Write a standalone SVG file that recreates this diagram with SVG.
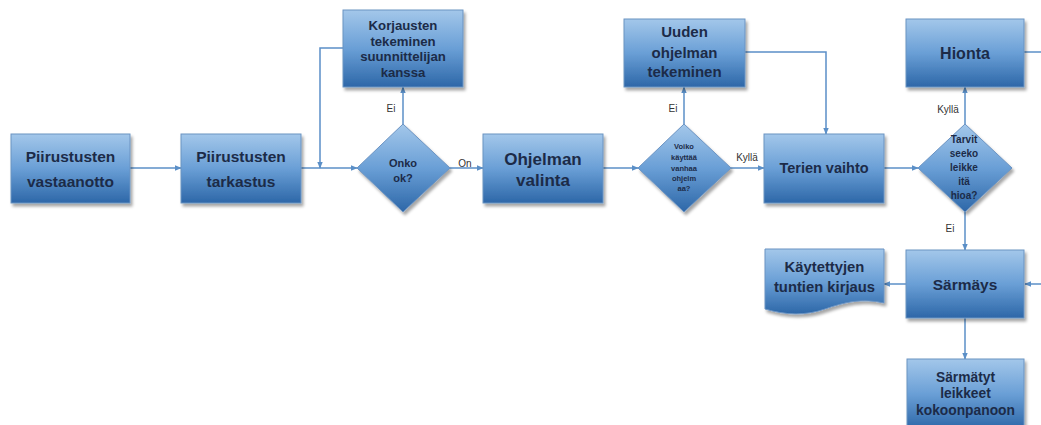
<svg xmlns="http://www.w3.org/2000/svg" width="1041" height="425" viewBox="0 0 1041 425">
<defs>
<linearGradient id="g" x1="0" y1="0" x2="0" y2="1">
<stop offset="0" stop-color="#a3c7ea"/>
<stop offset="0.5" stop-color="#6a9fd6"/>
<stop offset="1" stop-color="#2d67a8"/>
</linearGradient>
<filter id="sh" x="-10%" y="-10%" width="125%" height="130%">
<feDropShadow dx="2" dy="3" stdDeviation="1.5" flood-color="#000" flood-opacity="0.35"/>
</filter>
<marker id="ah" viewBox="0 0 10 10" refX="9" refY="5" markerWidth="7" markerHeight="7" markerUnits="userSpaceOnUse" orient="auto">
<path d="M0,1 L10,5 L0,9 Z" fill="#5b8fc7"/>
</marker>
</defs>
<style>
.n{fill:url(#g);stroke:#6b93c2;stroke-width:1;filter:url(#sh)}
.t{font-family:"Liberation Sans",Arial,sans-serif;font-weight:bold;fill:#1c2b48;text-anchor:middle}
.l{font-family:"Liberation Sans",Arial,sans-serif;font-size:10px;fill:#333;text-anchor:middle}
.c{fill:none;stroke:#5b8fc7;stroke-width:1.5}
.a{marker-end:url(#ah)}
</style>
<rect width="1041" height="425" fill="#fff"/>
<g id="connectors">
<path class="c a" d="M130,168 H181"/>
<path class="c a" d="M301,168 H357"/>
<path class="c a" d="M343,48 H320 V168"/>
<path class="c a" d="M403,124 V87"/>
<path class="c a" d="M450,168 H483"/>
<path class="c a" d="M603,168 H638"/>
<path class="c a" d="M684,124 V87"/>
<path class="c a" d="M745,52 H826 V134"/>
<path class="c a" d="M731,168 H764"/>
<path class="c a" d="M884,168 H918"/>
<path class="c a" d="M965,124 V87"/>
<path class="c a" d="M965,212 V250"/>
<path class="c" d="M1024,52 H1041"/>
<path class="c a" d="M1041,284 H1025"/>
<path class="c a" d="M906,284 H884"/>
<path class="c a" d="M965,318 V359"/>
<text class="l" x="391" y="112">Ei</text>
<text class="l" x="465" y="167">On</text>
<text class="l" x="673" y="112">Ei</text>
<text class="l" x="747" y="161">Kyllä</text>
<text class="l" x="948" y="113">Kyllä</text>
<text class="l" x="950" y="232">Ei</text>
</g>
<g id="n1"><rect class="n" x="11" y="134" width="119" height="69"/>
<text class="t" font-size="15.5"><tspan x="70.5" y="162">Piirustusten</tspan><tspan x="70.5" y="187">vastaanotto</tspan></text></g>
<g id="n2"><rect class="n" x="181" y="134" width="120" height="69"/>
<text class="t" font-size="15.5"><tspan x="241" y="162">Piirustusten</tspan><tspan x="241" y="187">tarkastus</tspan></text></g>
<g id="n3"><rect class="n" x="343" y="10" width="120" height="77"/>
<text class="t" font-size="13.2"><tspan x="403" y="30">Korjausten</tspan><tspan x="403" y="45.5">tekeminen</tspan><tspan x="403" y="61">suunnittelijan</tspan><tspan x="403" y="77">kanssa</tspan></text></g>
<g id="d1"><polygon class="n" points="403,124 450,168 403,212 357,168"/>
<text class="t" font-size="11"><tspan x="403" y="167">Onko</tspan><tspan x="403" y="182">ok?</tspan></text></g>
<g id="n4"><rect class="n" x="483" y="134" width="120" height="69"/>
<text class="t" font-size="17"><tspan x="543" y="165">Ohjelman</tspan><tspan x="543" y="186">valinta</tspan></text></g>
<g id="d2"><polygon class="n" points="684,124 731,168 684,212 638,168"/>
<text class="t" font-size="7.5"><tspan x="684" y="149">Voiko</tspan><tspan x="684" y="159.5">käyttää</tspan><tspan x="684" y="170.5">vanhaa</tspan><tspan x="684" y="181">ohjelm</tspan><tspan x="684" y="191">aa?</tspan></text></g>
<g id="n5"><rect class="n" x="624" y="19" width="121" height="68"/>
<text class="t" font-size="15"><tspan x="684.5" y="37">Uuden</tspan><tspan x="684.5" y="58">ohjelman</tspan><tspan x="684.5" y="77">tekeminen</tspan></text></g>
<g id="n6"><rect class="n" x="764" y="134" width="120" height="69"/>
<text class="t" font-size="14.5"><tspan x="824" y="173">Terien vaihto</tspan></text></g>
<g id="d3"><polygon class="n" points="965,124 1012,168 965,212 918,168"/>
<text class="t" font-size="10"><tspan x="964" y="143">Tarvit</tspan><tspan x="964" y="157">seeko</tspan><tspan x="964" y="171">leikke</tspan><tspan x="964" y="185">itä</tspan><tspan x="964" y="199">hioa?</tspan></text></g>
<g id="n7"><rect class="n" x="906" y="19" width="118" height="68"/>
<text class="t" font-size="16"><tspan x="965" y="59">Hionta</tspan></text></g>
<g id="n8"><rect class="n" x="906" y="250" width="118" height="68"/>
<text class="t" font-size="15.5"><tspan x="965" y="290">Särmäys</tspan></text></g>
<g id="n9"><path class="n" d="M765,249 H884 V303 C862,298 845,302 825,309 C805,316 785,315 765,309 Z"/>
<text class="t" font-size="14.8"><tspan x="824.5" y="272">Käytettyjen</tspan><tspan x="824.5" y="292">tuntien kirjaus</tspan></text></g>
<g id="n10"><rect class="n" x="907" y="359" width="117" height="70"/>
<text class="t" font-size="13.8"><tspan x="965.5" y="382">Särmätyt</tspan><tspan x="965.5" y="398">leikkeet</tspan><tspan x="965.5" y="415">kokoonpanoon</tspan></text></g>
</svg>
